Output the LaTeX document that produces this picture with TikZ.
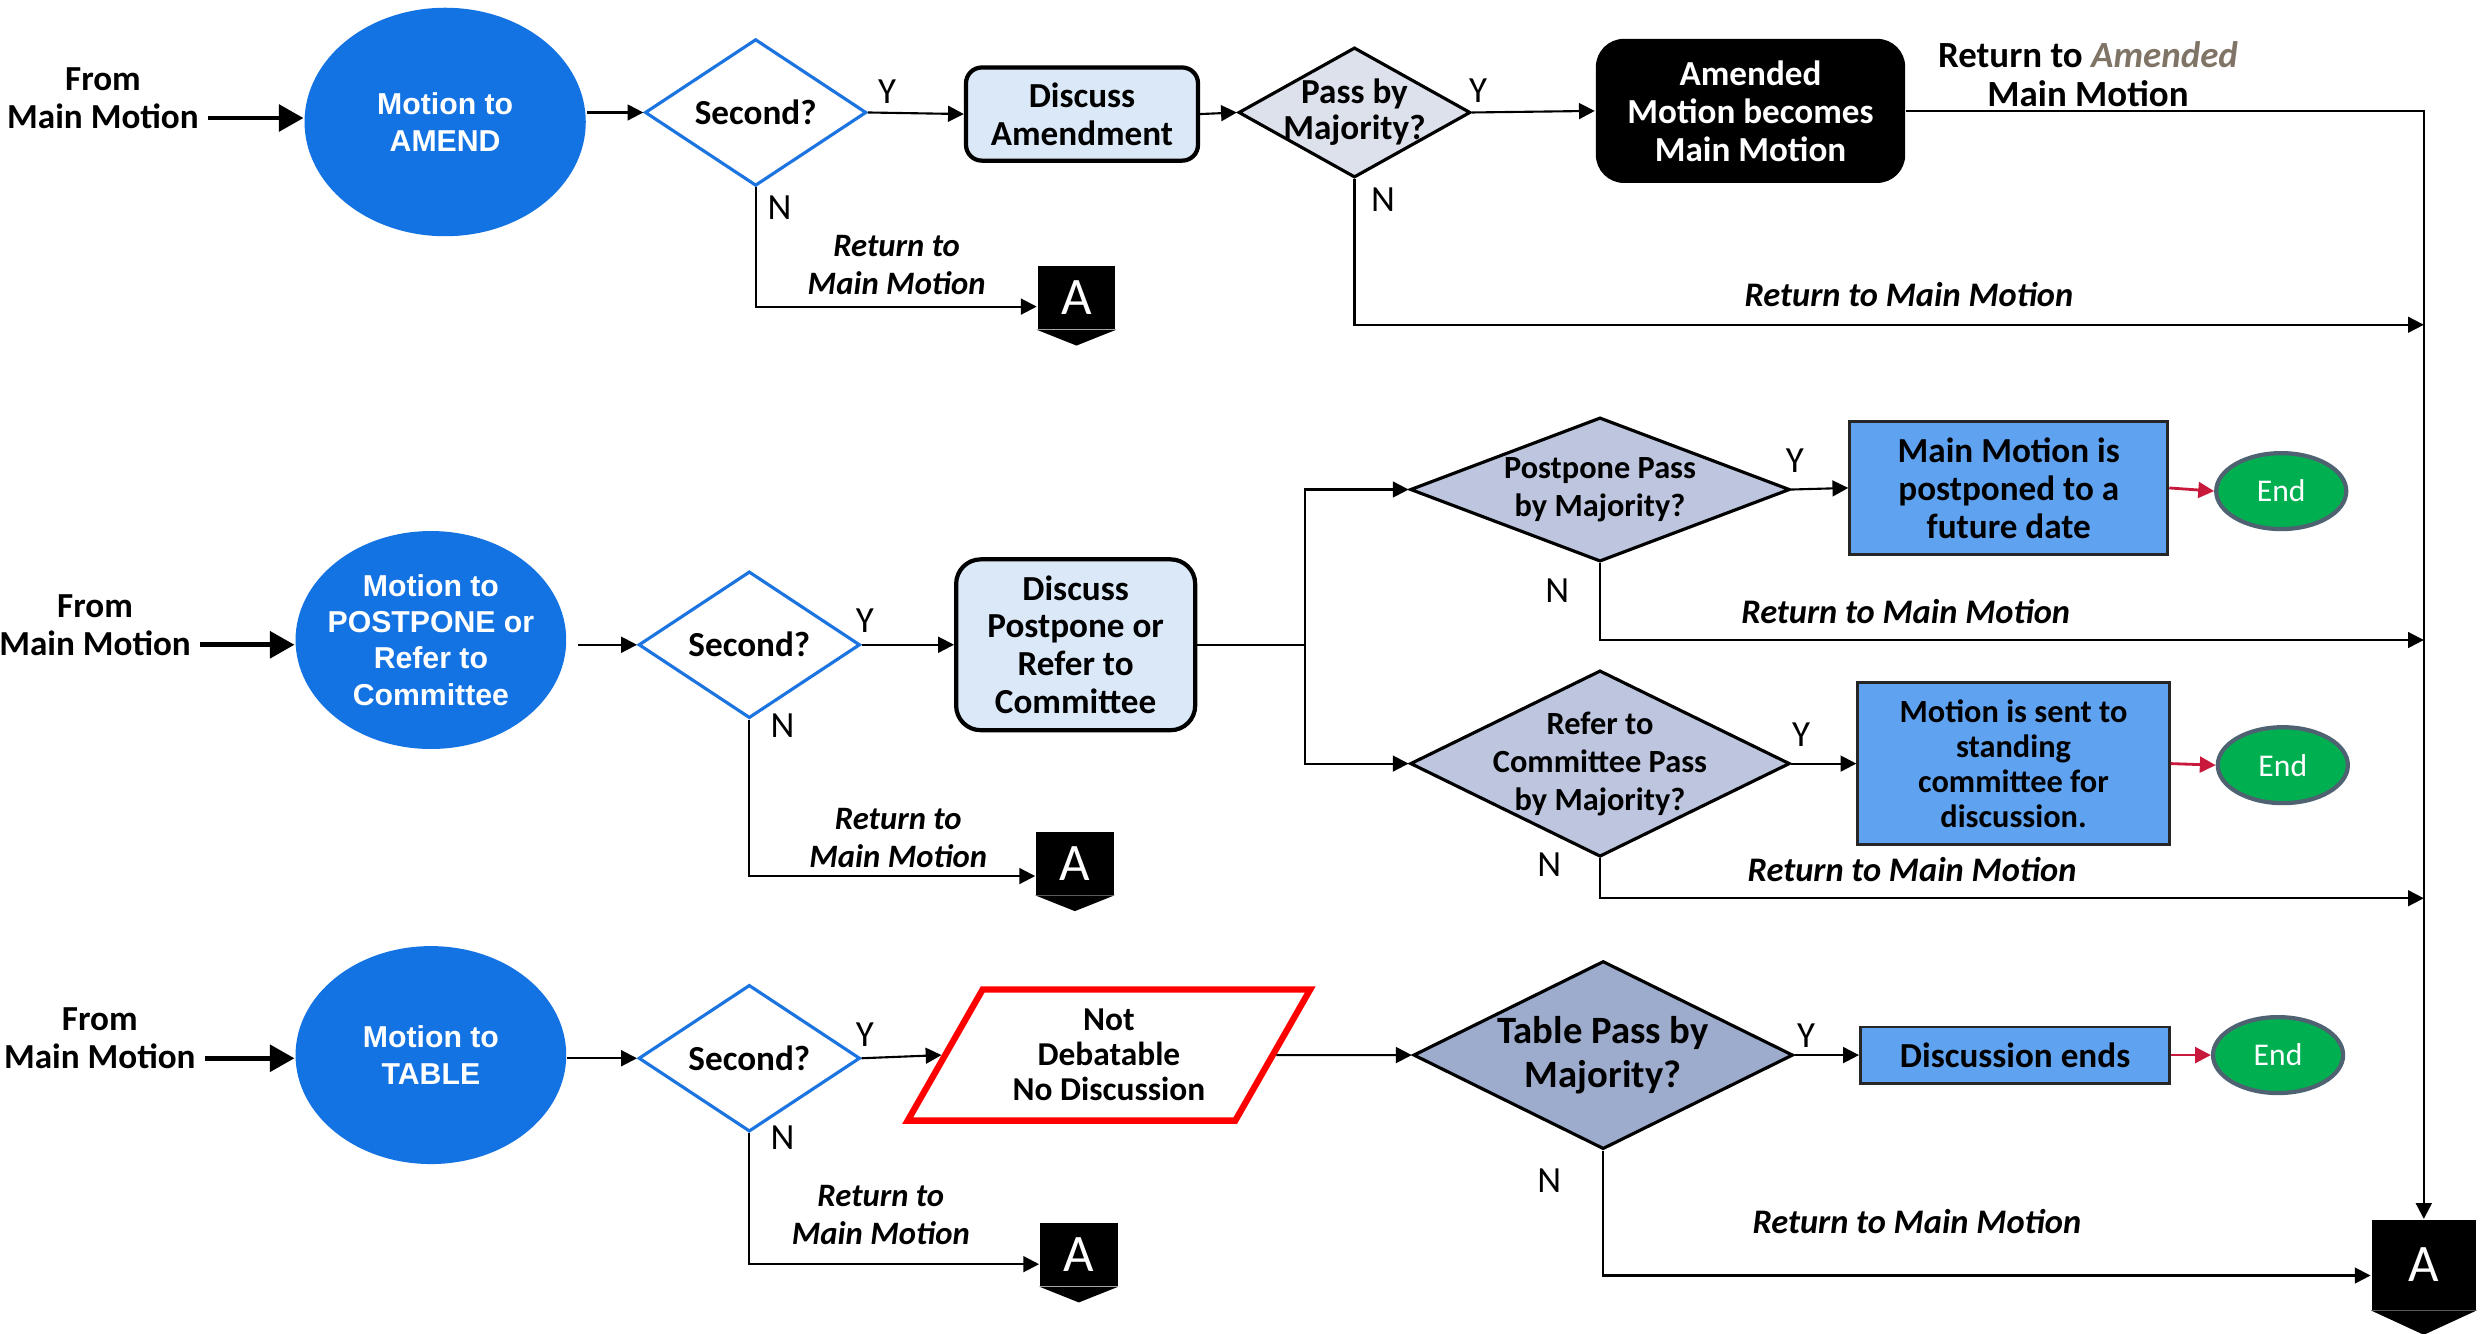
\documentclass[tikz,border=0pt]{standalone}
\usepackage{fontspec}
\setmainfont{Carlito}
\newfontfamily\arialf{Liberation Sans}
\usetikzlibrary{positioning}
\usetikzlibrary{shapes.geometric}
\usetikzlibrary{arrows.meta}
\usetikzlibrary{calc}
\definecolor{motblue}{HTML}{1473E3}
\definecolor{secblue}{HTML}{1C74E0}
\definecolor{discfill}{HTML}{DAE8F7}
\definecolor{passfill}{HTML}{DDE1EC}
\definecolor{ppfill}{HTML}{BDC6DE}
\definecolor{tabfill}{HTML}{9DABCC}
\definecolor{resblue}{HTML}{5EA2F0}
\definecolor{endgreen}{HTML}{00B050}
\definecolor{endring}{HTML}{4F6272}
\definecolor{endred}{HTML}{C8193C}
\definecolor{amdgray}{HTML}{7F7466}
\tikzset{>={Triangle[length=4.5pt,width=4.5pt]}}
\tikzset{from/.style={align=center, font=\bfseries\fontsize{10}{10.8}\selectfont}}
\tikzset{bigarr/.style={line width=1.4pt, -{Triangle[length=7pt,width=7.5pt]}}}
\tikzset{motion/.style={ellipse, fill=motblue, text=white, align=center, inner sep=-3pt, font=\arialf\bfseries\fontsize{8.6}{10.3}\selectfont}}
\tikzset{second/.style={diamond, draw=secblue, line width=0.9pt, fill=white, minimum width=63pt, minimum height=36pt, inner sep=0pt, font=\bfseries\fontsize{10}{11}\selectfont}}
\tikzset{vote/.style={diamond, draw, line width=0.9pt, inner sep=0pt}}
\tikzset{vtext/.style={align=center, font=\bfseries\fontsize{10}{10.3}\selectfont}}
\tikzset{discuss/.style={rectangle, rounded corners=4.5pt, draw, line width=1.2pt, fill=discfill, align=center, inner sep=0pt, font=\bfseries\fontsize{10}{10.8}\selectfont}}
\tikzset{newmain/.style={rectangle, rounded corners=8pt, fill=black, text=white, align=center, inner sep=0pt, minimum width=88pt, minimum height=41pt, font=\bfseries\fontsize{10}{10.8}\selectfont}}
\tikzset{result/.style={rectangle, draw=black!85, line width=0.8pt, fill=resblue, align=center, inner sep=0pt, font=\bfseries\fontsize{10}{10.8}\selectfont}}
\tikzset{endnode/.style={ellipse, fill=endgreen, draw=endring, line width=1.2pt, text=white, minimum width=37pt, minimum height=21.6pt, inner sep=0pt, font=\fontsize{9}{10}\selectfont}}
\tikzset{endarr/.style={draw=endred, line width=0.8pt, -{Triangle[length=4.5pt,width=4.5pt]}, endred}}
\tikzset{para/.style={trapezium, trapezium left angle=58, trapezium right angle=122, trapezium stretches=true, draw=red, line width=1.8pt, fill=white, align=center, inner sep=0pt, font=\bfseries\fontsize{9.5}{9.9}\selectfont}}
\tikzset{offpg/.style={rectangle, fill=black, text=white, inner sep=0pt, font=\fontsize{15}{15}\selectfont}}
\tikzset{yn/.style={font=\fontsize{10.5}{12}\selectfont}}
\tikzset{ret/.style={align=center, font=\bfseries\itshape\fontsize{9.3}{10.8}\selectfont}}
\tikzset{retl/.style={font=\bfseries\itshape\fontsize{9.8}{11}\selectfont}}

\begin{document}
\begin{tikzpicture}[x=0.01584cm, y=-0.01584cm, line width=0.6pt]
\useasboundingbox (0,0) rectangle (1568,842);

% motion to amend
\node[from] (from1) at (65,62) {From\\Main Motion};
\node[motion, minimum width=80pt, minimum height=65pt] (amend) at (281,77) {Motion to\\AMEND};
\node[second] (sec1) at (477,71) {Second?};
\node[discuss, minimum width=66pt, minimum height=26.5pt] (disc1) at (683,72) {Discuss\\Amendment};
\node[vote, fill=passfill, minimum width=66pt, minimum height=37pt,
  label={[vtext]center:{Pass by\\Majority?}}] (pass) at (855,71) {};
\node[newmain] (amd) at (1105,70) {Amended\\Motion becomes\\Main Motion};
\node[offpg, minimum width=22pt, minimum height=18pt] (A1) at (679.5,188) {A};
\node[yn] (y1) at (560,58) {Y};
\node[yn] (y2) at (933,57) {Y};
\node[yn] (n1) at (492,131) {N};
\node[yn] (n2) at (873,126) {N};
\node[ret] (ret1) at (566,167) {Return to\\Main Motion};
\node[retl] (ret2) at (1205,186) {Return to Main Motion};
\node[align=center, font=\bfseries\fontsize{10.5}{11.2}\selectfont] (ramd) at (1318,47)
  {Return to \textcolor{amdgray}{\itshape Amended}\\Main Motion};

% motion to postpone or refer
\node[from] (from2) at (60,394.5) {From\\Main Motion};
\node[motion, minimum width=77pt, minimum height=62pt] (post) at (272,404) {Motion to\\POSTPONE or\\Refer to\\Committee};
\node[second] (sec2) at (473,407) {Second?};
\node[discuss, rounded corners=7pt, minimum width=68pt, minimum height=48.6pt] (disc2) at (679,407) {Discuss\\Postpone or\\Refer to\\Committee};
\node[vote, fill=ppfill, minimum width=108pt, minimum height=41pt,
  label={[vtext, font=\bfseries\fontsize{9.2}{10.8}\selectfont]center:{Postpone Pass\\by Majority?}}] (pp) at (1010,309) {};
\node[vote, fill=ppfill, minimum width=108pt, minimum height=53pt,
  label={[vtext, font=\bfseries\fontsize{9.2}{10.8}\selectfont]center:{Refer to\\Committee Pass\\by Majority?}}] (rc) at (1010,482) {};
\node[result, minimum width=90.5pt, minimum height=38pt] (pbox) at (1268,308) {Main Motion is\\postponed to a\\future date};
\node[result, minimum width=88.6pt, minimum height=46pt, font=\bfseries\fontsize{9.2}{9.9}\selectfont] (rbox) at (1271,482) {Motion is sent to\\standing\\committee for\\discussion.};
\node[endnode] (end1) at (1440,310) {End};
\node[endnode] (end2) at (1441,483) {End};
\node[offpg, minimum width=22pt, minimum height=18pt] (A2) at (678.5,545) {A};
\node[yn] (y3) at (546,392) {Y};
\node[yn] (y4) at (1133,291) {Y};
\node[yn] (y5) at (1137,464) {Y};
\node[yn] (n3) at (494,458) {N};
\node[yn] (n4) at (983,373) {N};
\node[yn] (n5) at (978,546) {N};
\node[ret] (ret3) at (567,529) {Return to\\Main Motion};
\node[retl] (ret4) at (1203,386) {Return to Main Motion};
\node[retl] (ret5) at (1207,549) {Return to Main Motion};

% motion to table
\node[from] (from3) at (63,655.5) {From\\Main Motion};
\node[motion, minimum width=77pt, minimum height=62pt] (tab) at (272,666) {Motion to\\TABLE};
\node[second] (sec3) at (473,668) {Second?};
\node[para, minimum width=115pt, minimum height=37.3pt] (nodeb) at (700,666) {Not\\Debatable\\No Discussion};
\node[vote, fill=tabfill, minimum width=108pt, minimum height=53.5pt,
  label={[vtext, font=\bfseries\fontsize{11}{12.6}\selectfont]center:{Table Pass by\\Majority?}}] (tpass) at (1012,666) {};
\node[result, minimum width=88pt, minimum height=16pt] (dend) at (1272,666) {Discussion ends};
\node[endnode] (end3) at (1438,666) {End};
\node[offpg, minimum width=22pt, minimum height=18pt] (A3) at (681,792) {A};
\node[offpg, minimum width=29.7pt, minimum height=25.6pt] (bigA) at (1530,798.5) {A};
\node[yn] (y6) at (546,653) {Y};
\node[yn] (y7) at (1140,654) {Y};
\node[yn] (n6) at (494,718) {N};
\node[yn] (n7) at (978,745) {N};
\node[ret] (ret6) at (556,767) {Return to\\Main Motion};
\node[retl] (ret7) at (1210,771) {Return to Main Motion};

% off-page points
\foreach \a/\d in {A1/9.5, A2/9.5, A3/9.5, bigA/15}
  \fill ($(\a.south west)+(0,-0.5)$) -- ($(\a.south east)+(0,-0.5)$) -- ($(\a.south)+(0,\d)$) -- cycle;

\coordinate (r1) at (1530,205);
\coordinate (r2) at (1530,404);
\coordinate (r3) at (1530,567);

\foreach \f/\m in {from1/amend, from2/post, from3/tab}
  \draw[bigarr] ($(\f.east)+(-2,12.5)$) coordinate (t) -- (t -| \m.west);

\draw[->] (amend.east |- sec1.west) -- (sec1.west);
\draw[->] (sec1.east) -- (disc1.west);
\draw[->] (disc1.east) -- (pass.west);
\draw[->] (pass.east) -- (amd.west);
\draw[->] (amd.east) -| (bigA.north);
\draw[->] (sec1.south) |- ([yshift=-2.5pt]A1.west);
\draw[->] (pass.south) |- (r1);

\draw[->, shorten <=3pt] (post.east |- sec2.west) -- (sec2.west);
\draw[->] (sec2.east) -- (disc2.west);
\draw (disc2.east) -- ++(68,0) coordinate (split);
\draw[->] (split) |- (pp.west);
\draw[->] (split) |- (rc.west);
\draw[->] (pp.east) -- (pbox.west);
\draw[->] (rc.east) -- (rbox.west);
\draw[endarr] (pbox.east) -- (end1.west);
\draw[endarr] (rbox.east) -- (end2.west);
\draw[->] (pp.south) |- (r2);
\draw[->] (rc.south) |- (r3);
\draw[->] (sec2.south) |- ([yshift=-3.6pt]A2.west);

\draw[->] (tab.east |- sec3.west) -- (sec3.west);
\draw[->] (sec3.east) -- (nodeb.west);
\draw[->] (nodeb.east) -- (tpass.west);
\draw[->] (tpass.east) -- (dend.west);
\draw[endarr] (dend.east) -- (end3.west);
\draw[->] (tpass.south) |- ([yshift=-3pt]bigA.west);
\draw[->] (sec3.south) |- ([yshift=-2.7pt]A3.west);
\end{tikzpicture}
\end{document}
